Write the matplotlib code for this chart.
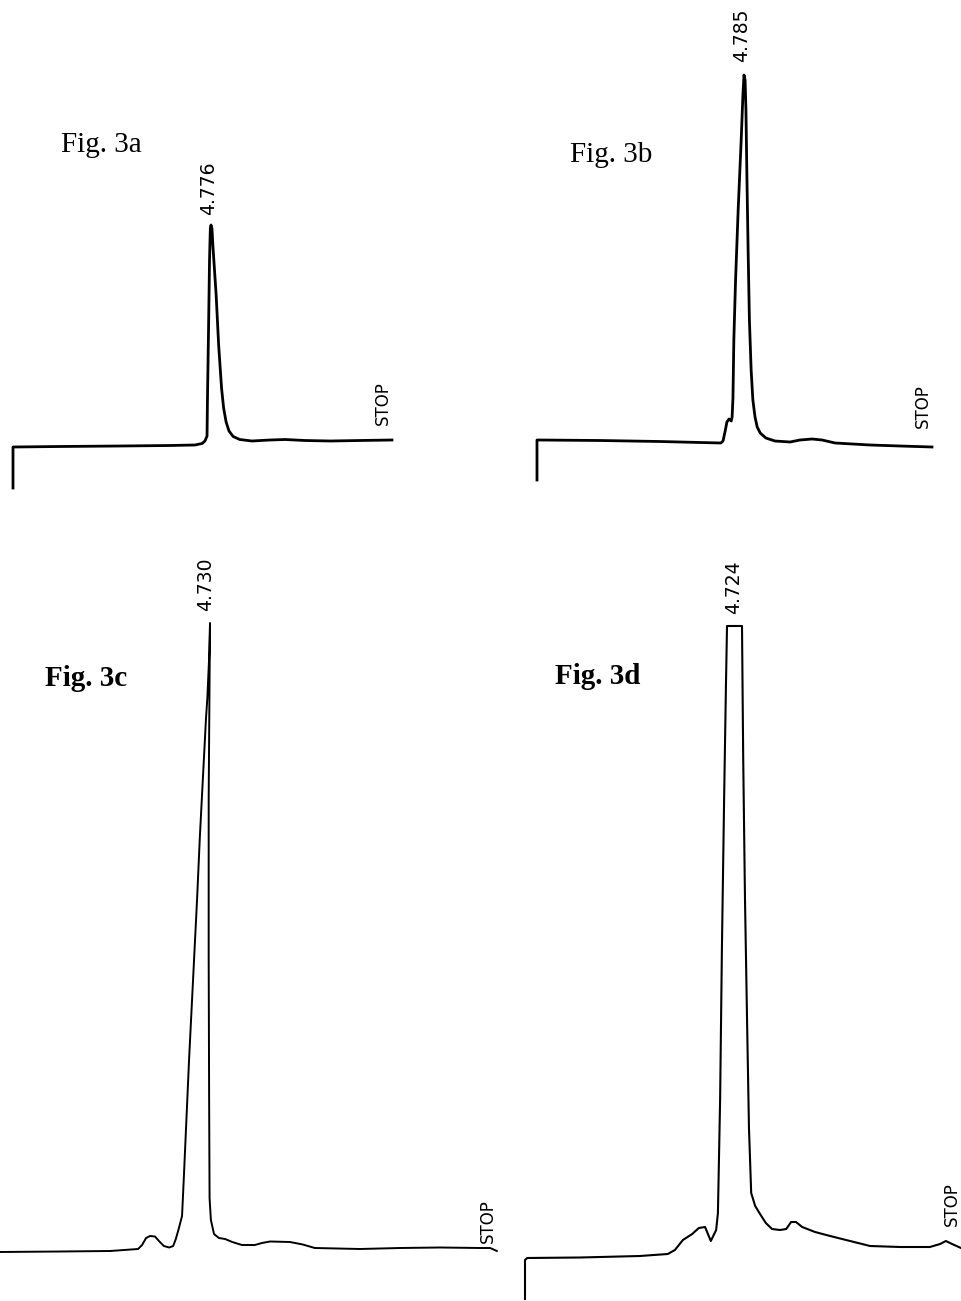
import numpy as np
import matplotlib.pyplot as plt

# Retention times printed over the main peak (min)
labels = ['4.776', '4.785', '4.730', '4.724']
figs = ['Fig. 3a', 'Fig. 3b', 'Fig. 3c', 'Fig. 3d']

# Fig. 3a trace: time (min) vs detector signal (mV)
time_a = [0, 0, 1.13, 2.58, 3.79, 4.39, 4.56, 4.63, 4.68, 4.69, 4.72, 4.74, 4.76, 4.776,
          4.80, 4.82, 4.90, 4.96, 5.03, 5.08, 5.14, 5.21, 5.31, 5.47, 5.76, 6.20, 6.56,
          7.04, 7.65, 8.37, 9.14]
sig_a = [-8.2, 0, 0.1, 0.2, 0.3, 0.4, 0.7, 1.2, 2.2, 9.4, 25.4, 37.4, 43.8, 44.4,
         43.6, 40.4, 30.4, 20.4, 11.8, 7.8, 5.0, 3.2, 2.1, 1.5, 1.2, 1.4, 1.5,
         1.3, 1.2, 1.3, 1.4]

# Fig. 3b trace
time_b = [0, 0, 1.46, 2.84, 3.77, 4.25, 4.30, 4.35, 4.39, 4.44, 4.49, 4.51, 4.53, 4.55,
          4.59, 4.65, 4.72, 4.76, 4.785, 4.81, 4.83, 4.85, 4.88, 4.91, 4.95, 4.99, 5.04,
          5.09, 5.16, 5.29, 5.50, 5.85, 6.08, 6.36, 6.59, 6.89, 7.70, 8.39, 9.13]
sig_b = [-8.0, 0, -0.1, -0.3, -0.5, -0.6, -0.2, 1.8, 3.6, 4.2, 3.8, 4.6, 8.4, 20.0,
         32.0, 46.0, 60.0, 69.0, 73.0, 72.0, 66.0, 54.0, 38.0, 24.0, 14.0, 8.0, 4.6,
         2.6, 1.4, 0.4, -0.2, -0.4, 0.0, 0.2, 0.0, -0.6, -1.0, -1.2, -1.4]

# Fig. 3c trace
time_c = [0, 1.35, 2.48, 3.11, 3.20, 3.29, 3.38, 3.49, 3.58, 3.69, 3.81, 3.90, 3.96, 4.03,
          4.10, 4.14, 4.19, 4.26, 4.35, 4.44, 4.50, 4.57, 4.64, 4.67, 4.71, 4.73, 4.72,
          4.70, 4.70, 4.71, 4.72, 4.75, 4.82, 4.93, 5.07, 5.23, 5.45, 5.74, 5.90, 6.08,
          6.53, 6.82, 7.09, 8.11, 9.01, 9.91, 10.81, 11.04, 11.19]
sig_c = [-0.4, -0.3, -0.2, 0.2, 1.0, 2.4, 2.8, 2.7, 1.8, 0.8, 0.5, 0.8, 2.2, 4.4,
         6.8, 14.4, 24.4, 38.4, 54.4, 70.4, 82.4, 94.4, 106.4, 110.4, 118.4, 125.4, 114.4,
         90.4, 58.4, 30.4, 10.4, 6.0, 3.2, 2.4, 2.2, 1.6, 1.0, 1.0, 1.4, 1.7,
         1.6, 1.1, 0.4, 0.2, 0.4, 0.5, 0.4, 0.4, -0.2]

# Fig. 3d trace (main peak off scale)
time_d = [0, 0, 0.05, 1.24, 2.59, 3.22, 3.38, 3.56, 3.77, 3.92, 4.06, 4.19, 4.31, 4.35,
          4.40, 4.44, 4.49, 4.53, 4.555, 4.893, 4.92, 4.96, 5.01, 5.05, 5.10, 5.19, 5.30,
          5.43, 5.57, 5.75, 5.89, 6.00, 6.11, 6.25, 6.54, 6.88, 7.33, 7.78, 8.46, 9.13,
          9.36, 9.49, 9.63, 9.83]
sig_d = [-8.2, -0.4, 0, 0.1, 0.4, 0.8, 1.6, 3.6, 4.8, 6.0, 6.2, 3.4, 5.6, 9.0,
         32.0, 62.0, 92.0, 114.0, 126.4, 126.4, 100.0, 72.0, 46.0, 26.0, 13.0, 10.4, 8.8,
         7.0, 5.8, 5.6, 5.8, 7.2, 7.2, 6.2, 5.2, 4.4, 3.4, 2.4, 2.2, 2.2,
         2.8, 3.4, 2.8, 2.0]

W, H = 961, 1301
fig = plt.figure(figsize=(W / 100, H / 100), dpi=100)
fig.patch.set_facecolor('white')


def trace_axes(x0, ppm, y0, ppu):
    # chart-recorder paper: x0/y0 = pen start on the page, ppm = px per min, ppu = px per mV
    ax = fig.add_axes([0, 0, 1, 1])
    ax.set_xlim(-x0 / ppm, (W - x0) / ppm)
    ax.set_ylim((y0 - H) / ppu, y0 / ppu)
    ax.axis('off')
    ax.patch.set_alpha(0)
    return ax


panels = [
    (time_a, sig_a, (13, 41.46, 447, 5), 2.0, (-1.8, 7.5), (0, 11)),
    (time_b, sig_b, (537, 43.26, 440, 5), 2.0, (-2.0, 9.0), (0, 13.5)),
    (time_c, sig_c, (0, 44.4, 1250, 5), 1.4, (-3.2, 8.5), (0, 6)),
    (time_d, sig_d, (525, 44.35, 1258, 5), 1.5, (-1.0, 9.0), (0, 16)),
]

for (t, s, cal, lw, lab_off, stop_off), lab in zip(panels, labels):
    ax = trace_axes(*cal)
    ax.plot(t, s, color='black', lw=lw, solid_joinstyle='round', clip_on=False)
    t = np.array(t)
    s = np.array(s)
    top = s.argmax()
    peak_t = t[s == s.max()].mean()
    ax.annotate(lab, xy=(peak_t, s[top]), xytext=lab_off, textcoords='offset points',
                rotation=90, ha='center', va='bottom', fontsize=13.5, family='DejaVu Sans')
    ax.annotate('STOP', xy=(t[-1], s[-1]), xytext=stop_off, textcoords='offset points',
                rotation=90, ha='right', va='bottom', fontsize=12, family='DejaVu Sans')

# figure captions
fig_pos = [(101, 145, 'normal'), (611, 155, 'normal'), (86, 678, 'bold'), (598, 676, 'bold')]
for name, (px, py, wt) in zip(figs, fig_pos):
    fig.text(px / W, 1 - py / H, name, ha='center', va='center', fontsize=21,
             family='Liberation Serif', fontweight=wt)

fig.savefig('out.png', dpi=100)
